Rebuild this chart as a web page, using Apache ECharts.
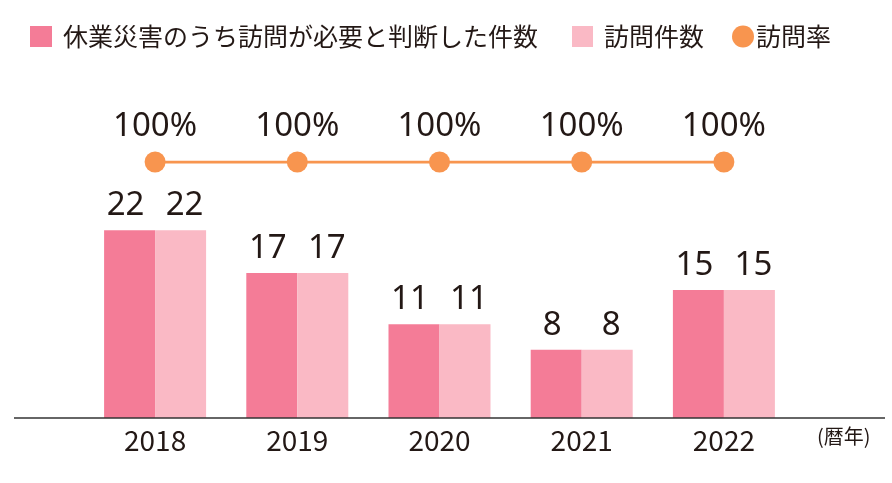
<!DOCTYPE html>
<html><head><meta charset="utf-8">
<script src="https://cdn.jsdelivr.net/npm/echarts@6/dist/echarts.min.js"></script>
<style>html,body{margin:0;padding:0;background:#fff}#c{width:892px;height:483px}</style>
</head><body><div id="c"></div>
<script>
const years = ['2018','2019','2020','2021','2022'];
const needVisit = [22,17,11,8,15];
const visited = [22,17,11,8,15];
const visitRate = [100,100,100,100,100];
const seriesNames = ['休業災害のうち訪問が必要と判断した件数','訪問件数','訪問率'];

const FONT = '"Noto Sans CJK JP", "Noto Sans", sans-serif';
const NUMFONT = '"Noto Sans", "Open Sans", sans-serif';
const TXT = '#231815';
const chart = echarts.init(document.getElementById('c'));
chart.setOption({
  animation:false,
  textStyle:{fontFamily:FONT,color:TXT},
  legend:[
    {data:[seriesNames[0]],left:30,top:24,padding:0,itemWidth:22,itemHeight:21,icon:'rect',
     textStyle:{fontSize:25,color:TXT,fontFamily:FONT,padding:[0,0,0,6]}},
    {data:[seriesNames[1]],left:572,top:24,padding:0,itemWidth:21,itemHeight:21,icon:'rect',
     textStyle:{fontSize:25,color:TXT,fontFamily:FONT,padding:[0,0,0,6]}},
    {data:[seriesNames[2]],left:732,top:24,padding:0,itemWidth:22,itemHeight:22,icon:'circle',
     textStyle:{fontSize:25,color:TXT,fontFamily:FONT,padding:[0,0,0,-3]}}
  ],
  grid:{left:84,right:97,top:162,bottom:65},
  xAxis:{type:'category',data:years,
    axisLine:{show:false},axisTick:{show:false},
    axisLabel:{fontSize:28,color:TXT,margin:8,fontFamily:FONT},
    name:'(暦年)',nameLocation:'end',nameGap:22,
    nameTextStyle:{fontSize:20,color:TXT,fontFamily:FONT,verticalAlign:'top',padding:[8,0,0,0]}},
  yAxis:[
    {type:'value',min:0,max:30,show:false,splitLine:{show:false}},
    {type:'value',min:0,max:100,show:false,splitLine:{show:false}}
  ],
  graphic:[{type:'line',shape:{x1:14,y1:418,x2:885,y2:418},style:{stroke:'#333',lineWidth:1.5},z:10}],
  series:[
    {name:seriesNames[0],type:'bar',data:needVisit,barWidth:51,barGap:'0%',
     itemStyle:{color:'#F47C97'},
     label:{show:true,position:'top',distance:8,offset:[-4,0],fontSize:33,color:TXT,fontFamily:NUMFONT}},
    {name:seriesNames[1],type:'bar',data:visited,barWidth:51,barGap:'0%',
     itemStyle:{color:'#FAB9C5'},
     label:{show:true,position:'top',distance:8,offset:[4,0],fontSize:33,color:TXT,fontFamily:NUMFONT}},
    {name:seriesNames[2],type:'line',yAxisIndex:1,data:visitRate,
     symbol:'circle',symbolSize:21,
     lineStyle:{color:'#F8954F',width:3},itemStyle:{color:'#F8954F'},
     label:{show:true,position:'top',distance:8,fontSize:33,color:TXT,fontFamily:NUMFONT,formatter:'{c}%'}}
  ]
});
</script></body></html>
